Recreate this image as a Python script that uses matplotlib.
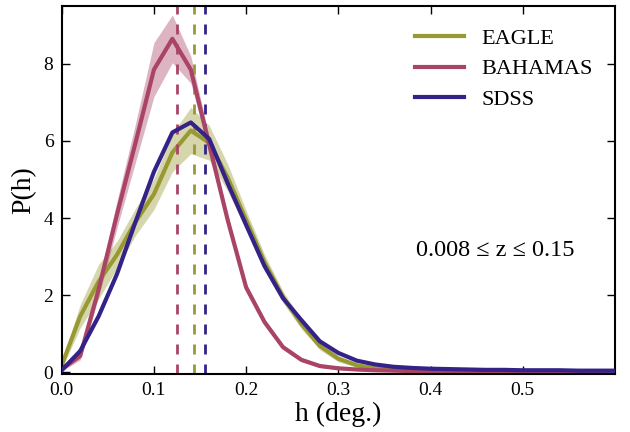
import numpy as np
import matplotlib
matplotlib.use('Agg')
import matplotlib.pyplot as plt

plt.rcParams['font.family'] = ['Liberation Serif', 'DejaVu Serif']
plt.rcParams['mathtext.fontset'] = 'stix'

# bin centres in h (deg.)
h = np.arange(31) * 0.02

eagle = [0.18, 1.45, 2.35, 3.05, 3.9, 4.62, 5.7, 6.27, 5.95, 5.05,
         3.95, 2.85, 1.95, 1.25, 0.68, 0.35, 0.18, 0.1, 0.06, 0.04,
         0.03, 0.03, 0.02, 0.02, 0.02, 0.02, 0.02, 0.02, 0.02, 0.02, 0.02]
eagle_err = [0.1, 0.3, 0.45, 0.35, 0.35, 0.4, 0.5, 0.6, 0.45, 0.35,
             0.25, 0.2, 0.15, 0.13, 0.1, 0.08, 0.05, 0.04, 0.03, 0.02,
             0.02, 0.02, 0.02, 0.02, 0.02, 0.02, 0.02, 0.02, 0.02, 0.02, 0.02]

bahamas = [0.08, 0.42, 2.15, 4.1, 5.95, 7.85, 8.65, 7.85, 5.9, 3.95,
           2.2, 1.3, 0.65, 0.32, 0.16, 0.1, 0.07, 0.05, 0.04, 0.03,
           0.03, 0.02, 0.02, 0.02, 0.02, 0.02, 0.02, 0.02, 0.02, 0.02, 0.02]
bahamas_err = [0.05, 0.1, 0.2, 0.35, 0.5, 0.7, 0.62, 0.35, 0.2, 0.12,
               0.1, 0.08, 0.06, 0.05, 0.04, 0.03, 0.03, 0.02, 0.02, 0.02,
               0.02, 0.02, 0.02, 0.02, 0.02, 0.02, 0.02, 0.02, 0.02, 0.02, 0.02]

sdss = [0.05, 0.55, 1.45, 2.55, 3.9, 5.2, 6.22, 6.48, 6.05, 4.9,
        3.82, 2.75, 1.92, 1.35, 0.8, 0.5, 0.3, 0.2, 0.14, 0.11,
        0.09, 0.08, 0.07, 0.06, 0.06, 0.05, 0.05, 0.05, 0.04, 0.04, 0.04]

# medians (dashed lines)
med_eagle = 0.144
med_bahamas = 0.125
med_sdss = 0.155

c_eagle = '#999933'
c_bahamas = '#aa4466'
c_sdss = '#332288'

fig = plt.figure(figsize=(6.3, 4.32), dpi=100)
ax = fig.add_axes([0.098, 0.134, 0.878, 0.852])

e = np.array(eagle)
ee = np.array(eagle_err)
b = np.array(bahamas)
be = np.array(bahamas_err)

ax.fill_between(h, e - ee, e + ee, color=c_eagle, alpha=0.4, lw=0)
ax.fill_between(h, b - be, b + be, color=c_bahamas, alpha=0.4, lw=0)

ax.plot(h, eagle, color=c_eagle, lw=3, label='EAGLE')
ax.plot(h, sdss, color=c_sdss, lw=3, zorder=3)
ax.plot(h, bahamas, color=c_bahamas, lw=3, label='BAHAMAS', zorder=2.5)
ax.plot([], [], color=c_sdss, lw=3, label='SDSS')

for m, c in [(med_bahamas, c_bahamas), (med_eagle, c_eagle), (med_sdss, c_sdss)]:
    ax.axvline(m, color=c, lw=2, ls=(0, (3.6, 3.6)))

ax.set_xlim(0, 0.6)
ax.set_ylim(-0.05, 9.5)
ax.set_xticks([0.0, 0.1, 0.2, 0.3, 0.4, 0.5])
ax.set_yticks([0, 2, 4, 6, 8])
ax.tick_params(direction='in', top=True, right=True, length=6, width=1,
               labelsize=14, pad=6)
for s in ax.spines.values():
    s.set_linewidth(1.5)

ax.set_xlabel('h (deg.)', fontsize=20, labelpad=2)
ax.set_ylabel('P(h)', fontsize=20, labelpad=5)

ax.text(0.384, 3.17, '0.008 \u2264 z \u2264 0.15', fontsize=17.5,
        va='center', ha='left')

ax.legend(loc='upper right', frameon=False, fontsize=16, handlelength=2.2,
          borderaxespad=0.6, labelspacing=0.45)

fig.savefig('out.png', dpi=100)
